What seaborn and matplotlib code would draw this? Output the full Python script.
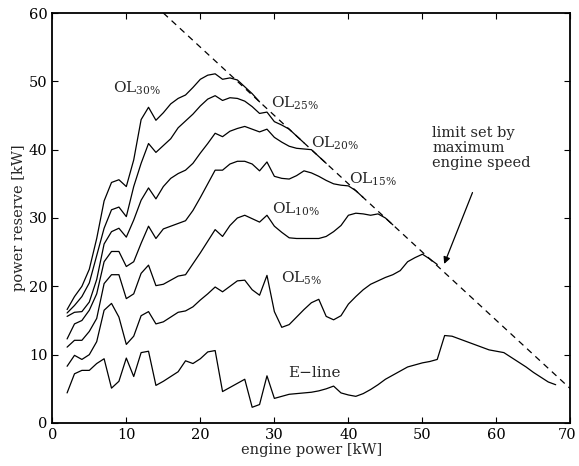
import numpy as np
import pandas as pd
import matplotlib
matplotlib.use("Agg")
import matplotlib.pyplot as plt
import matplotlib.transforms as mtransforms
import seaborn as sns

# ---------------- data ----------------
e_line = [4.4, 7.2, 7.7, 7.7, 8.7, 9.4, 5.1, 6.1, 9.5, 6.8, 10.3, 10.5, 5.5, 6.1, 6.8, 7.5,
          9.1, 8.7, 9.4, 10.4, 10.6, 4.6, 5.2, 5.8, 6.4, 2.3, 2.7, 6.9, 3.6, 3.9, 4.2, 4.3,
          4.4, 4.5, 4.7, 5.0, 5.4, 4.4, 4.1, 3.9, 4.3, 4.9, 5.6, 6.4, 7.0, 7.6, 8.2, 8.5,
          8.8, 9.0, 9.3, 12.8, 12.7, 12.3, 11.9, 11.5, 11.1, 10.7, 10.5, 10.3, 9.6, 8.9,
          8.2, 7.4, 6.7, 6.0, 5.6]
ol5 = [8.3, 9.9, 9.3, 10.0, 11.9, 16.5, 17.5, 15.5, 11.5, 12.7, 15.7, 16.3, 14.5, 14.8,
       15.5, 16.2, 16.4, 17.0, 18.0, 18.9, 19.9, 19.2, 20.0, 20.8, 20.9, 19.5, 18.7, 21.6,
       16.3, 14.0, 14.4, 15.5, 16.6, 17.6, 18.1, 15.6, 15.1, 15.7, 17.4, 18.5, 19.5, 20.3,
       20.8, 21.3, 21.7, 22.3, 23.6, 24.2, 24.7, 24.0, 23.2]
ol10 = [11.1, 12.1, 12.1, 13.4, 15.3, 20.4, 21.7, 21.7, 18.2, 18.9, 21.9, 23.1, 20.1, 20.3,
        20.9, 21.5, 21.7, 23.3, 24.9, 26.6, 28.3, 27.3, 28.9, 30.0, 30.4, 29.9, 29.4, 30.4,
        28.8, 27.9, 27.1, 27.0, 27.0, 27.0, 27.0, 27.3, 28.0, 28.9, 30.4, 30.7, 30.6, 30.4,
        30.6, 30.0, 29.0]
ol15 = [12.3, 14.5, 15.0, 16.5, 18.9, 23.6, 25.1, 25.1, 22.9, 23.6, 26.3, 28.8, 27.0, 28.4,
        28.8, 29.2, 29.6, 31.1, 33.0, 35.0, 37.0, 37.0, 37.9, 38.3, 38.3, 37.9, 36.9, 38.2,
        36.1, 35.8, 35.7, 36.2, 36.9, 36.6, 36.1, 35.5, 35.0, 34.8, 34.7, 34.0, 33.0]
ol20 = [15.6, 16.2, 16.3, 17.7, 21.0, 26.2, 28.0, 28.5, 27.2, 29.7, 32.6, 34.4, 32.8, 34.6,
        35.8, 36.5, 37.0, 38.0, 39.5, 40.9, 42.4, 41.9, 42.7, 43.1, 43.4, 43.0, 42.6, 43.0,
        41.8, 41.1, 40.5, 40.2, 40.1, 40.0, 39.0, 38.0]
ol25 = [16.1, 17.2, 18.5, 20.5, 24.5, 28.5, 31.2, 31.6, 30.2, 34.6, 38.0, 40.9, 39.6, 40.6,
        41.6, 43.2, 44.2, 45.2, 46.4, 47.4, 47.9, 47.2, 47.6, 47.5, 47.1, 46.3, 45.3, 45.5,
        44.1, 43.6, 43.0, 42.0, 41.0]
ol30 = [16.6, 18.5, 20.0, 22.5, 27.0, 32.5, 35.2, 35.6, 34.6, 38.5, 44.4, 46.2, 44.3, 45.4,
        46.7, 47.5, 48.0, 49.1, 50.3, 50.9, 51.1, 50.3, 50.5, 50.2, 49.2, 48.2, 47.0]

limit_x = [15, 70]
limit_y = [60, 5]

series = {"E-line": e_line, "OL5": ol5, "OL10": ol10, "OL15": ol15,
          "OL20": ol20, "OL25": ol25, "OL30": ol30}
frames = []
for name, vals in series.items():
    frames.append(pd.DataFrame({"power": np.arange(2, 2 + len(vals)),
                                "reserve": vals, "curve": name}))
df = pd.concat(frames, ignore_index=True)

# ---------------- style ----------------
sns.set_style("ticks")
plt.rcParams["font.family"] = ["DejaVu Serif"]
plt.rcParams["mathtext.fontset"] = "dejavuserif"

fig = plt.figure(figsize=(5.79, 4.66), dpi=100)
ax = fig.add_axes([0.0903, 0.0923, 0.8950, 0.8798])

for name in series:
    sns.lineplot(data=df[df["curve"] == name], x="power", y="reserve", ax=ax,
                 color="black", linewidth=0.9, legend=False)

sns.lineplot(x=limit_x, y=limit_y, ax=ax, color="black", linewidth=0.9,
             linestyle=(0, (5, 4)), legend=False)

ax.set_xlim(0, 70)
ax.set_ylim(0, 60)
ax.set_xticks(range(0, 71, 10))
ax.set_yticks(range(0, 61, 10))
ax.tick_params(direction="in", top=True, right=True, length=4, width=0.8,
               labelsize=10.5, colors="black")
for sp in ax.spines.values():
    sp.set_linewidth(1.3)
    sp.set_color("black")
ax.set_xlabel("engine power [kW]", fontsize=10.5, labelpad=1)
ax.set_ylabel("power reserve [kW]", fontsize=10.5, labelpad=2)

# keep the last x tick label inside the canvas
last = ax.get_xticklabels()[-1]
last.set_transform(last.get_transform() +
                   mtransforms.ScaledTranslation(-3 / 100, 0, fig.dpi_scale_trans))

fs = 11
ax.text(8.2, 49.0, r"OL$_{\mathrm{30\%}}$", fontsize=fs, va="center", ha="left")
ax.text(29.5, 46.8, r"OL$_{\mathrm{25\%}}$", fontsize=fs, va="center", ha="left")
ax.text(34.9, 41.0, r"OL$_{\mathrm{20\%}}$", fontsize=fs, va="center", ha="left")
ax.text(40.1, 35.6, r"OL$_{\mathrm{15\%}}$", fontsize=fs, va="center", ha="left")
ax.text(29.7, 31.2, r"OL$_{\mathrm{10\%}}$", fontsize=fs, va="center", ha="left")
ax.text(30.9, 21.2, r"OL$_{\mathrm{5\%}}$", fontsize=fs, va="center", ha="left")
ax.text(31.9, 7.3, "E\u2212line", fontsize=fs, va="center", ha="left")
ax.text(51.3, 43.4, "limit set by\nmaximum\nengine speed", fontsize=10.5,
        va="top", ha="left", linespacing=1.05)
ax.annotate("", xy=(52.8, 22.9), xytext=(56.9, 34.1),
            arrowprops=dict(arrowstyle="-|>", color="black", lw=0.9,
                            mutation_scale=10))

fig.savefig("out.png", dpi=100)
